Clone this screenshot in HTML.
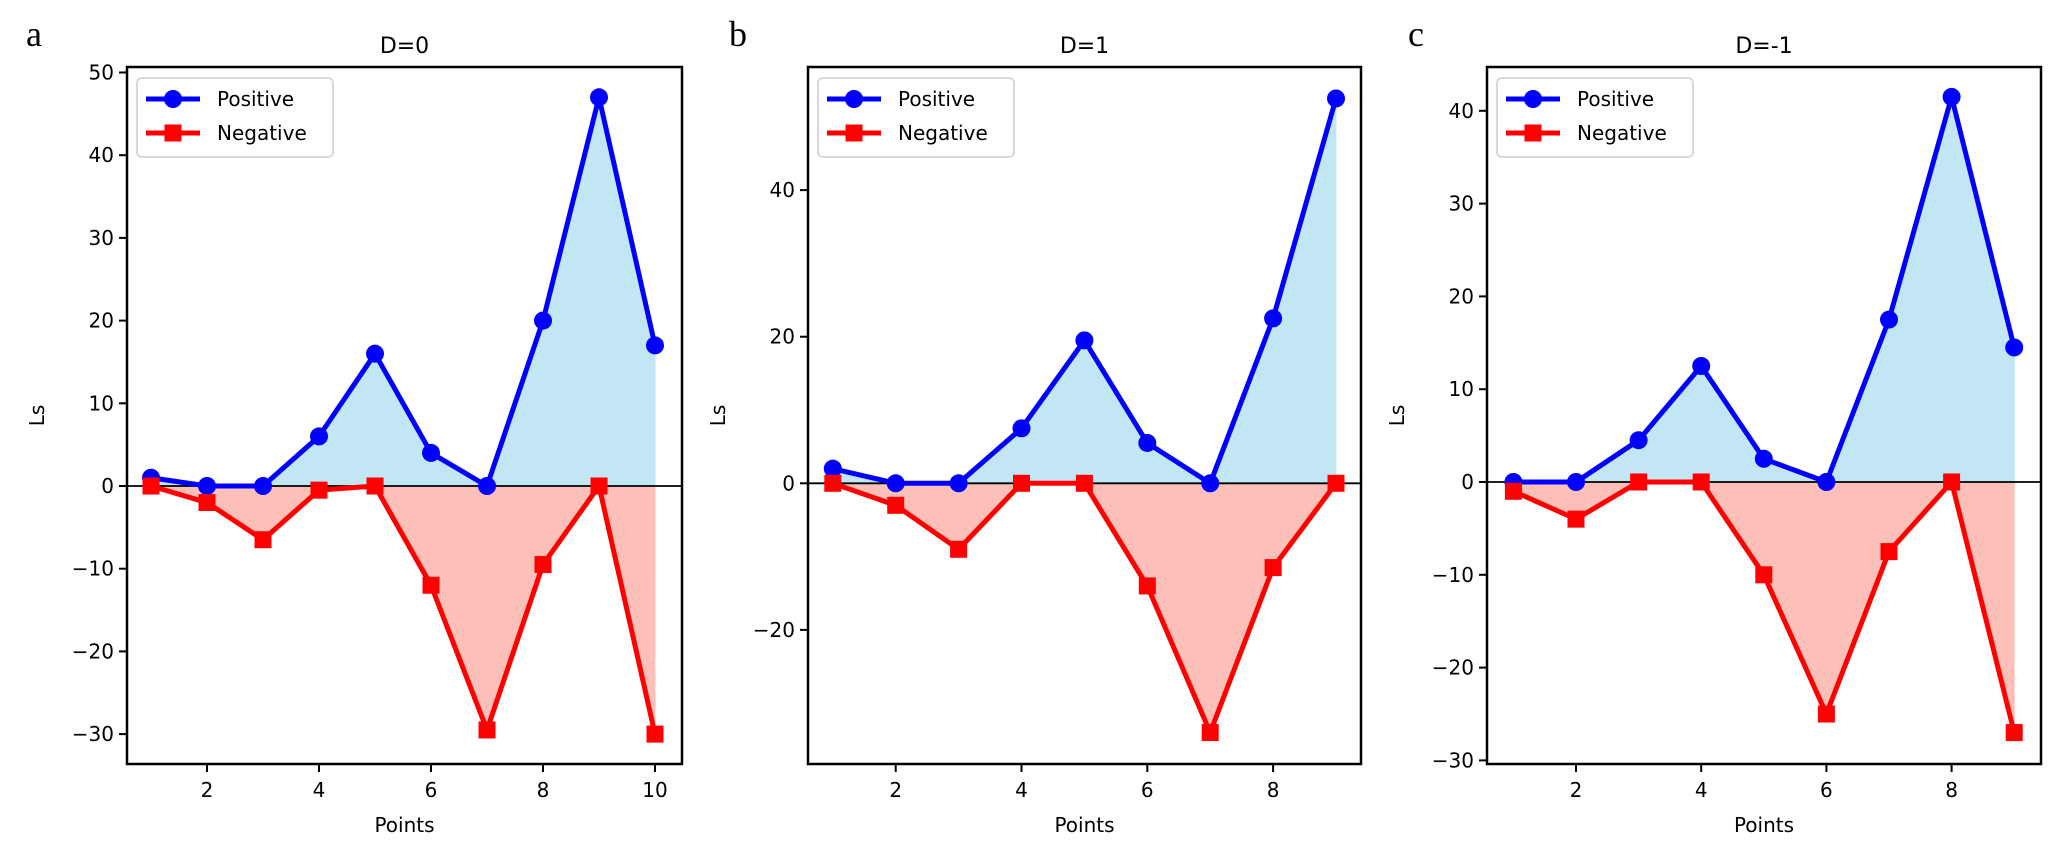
<!DOCTYPE html>
<html><head><meta charset="utf-8">
<style>
body{margin:0;background:#fff;}
svg{display:block;font-family:"DejaVu Sans","Liberation Sans",sans-serif;}
</style></head>
<body>
<svg id="fig" width="2068" height="866" viewBox="0 0 2068 866" xmlns="http://www.w3.org/2000/svg"></svg>
<script>
const xA = [1,2,3,4,5,6,7,8,9,10];
const posA = [1,0,0,6,16,4,0,20,47,17];
const negA = [0,-2,-6.5,-0.5,0,-12,-29.5,-9.5,0,-30];
const xB = [1,2,3,4,5,6,7,8,9];
const posB = [2,0,0,7.5,19.5,5.5,0,22.5,52.5];
const negB = [0,-3,-9,0,0,-14,-34,-11.5,0];
const xC = [1,2,3,4,5,6,7,8,9];
const posC = [0,0,4.5,12.5,2.5,0,17.5,41.5,14.5];
const negC = [-1,-4,0,0,-10,-25,-7.5,0,-27];
const yticksA = [-30,-20,-10,0,10,20,30,40,50];
const yticksB = [-20,0,20,40];
const yticksC = [-30,-20,-10,0,10,20,30,40];
const xticksA = [2,4,6,8,10];
const xticksB = [2,4,6,8];
const xticksC = [2,4,6,8];
const titles = ["D=0","D=1","D=-1"];
const letters = ["a","b","c"];

const NS="http://www.w3.org/2000/svg";
const fig=document.getElementById('fig');
function mk(tag,attrs,parent){const e=document.createElementNS(NS,tag);for(const k in attrs)e.setAttribute(k,attrs[k]);(parent||fig).appendChild(e);return e;}

const panels=[
 {x:xA,pos:posA,neg:negA,yt:yticksA,xt:xticksA,L:127,R:682,x0:1,x1:2,px0:151,px1:207,y0:0,py0:486,py10:82.7,lx:26},
 {x:xB,pos:posB,neg:negB,yt:yticksB,xt:xticksB,L:808,R:1361,x0:1,x1:2,px0:832.8,px1:895.7,y0:0,py0:483.3,py10:73.3,lx:729},
 {x:xC,pos:posC,neg:negC,yt:yticksC,xt:xticksC,L:1487,R:2041,x0:1,x1:2,px0:1513.4,px1:1576,y0:0,py0:482,py10:92.8,lx:1408}
];
const T=67,B=764;
panels.forEach((p,i)=>{
 const g=mk('g',{});
 
 
 const sx=v=>p.px0+(v-p.x0)*(p.px1-p.px0);
 const sy=v=>p.py0-v*p.py10/10;
 // fills
 function area(xs,ys,fill,name){
  let d='M'+sx(xs[0])+','+sy(0);
  xs.forEach((xv,j)=>{d+=' L'+sx(xv)+','+sy(ys[j]);});
  d+=' L'+sx(xs[xs.length-1])+','+sy(0)+' Z';
  const e=mk('path',{d:d,fill:fill,stroke:fill,'stroke-width':1},g);
  
  
 }
 area(p.x,p.pos,'#c3e6f5','positive-area');
 area(p.x,p.neg,'#fcc0b8','negative-area');
 const z=mk('line',{x1:p.L,x2:p.R,y1:sy(0),y2:sy(0),stroke:'#000','stroke-width':1.8},g);
 
 
 function series(xs,ys,col,name,sq){
  const pl=mk('polyline',{points:xs.map((xv,j)=>sx(xv)+','+sy(ys[j])).join(' '),fill:'none',stroke:col,'stroke-width':5,'stroke-linejoin':'round'},g);
  
  
  xs.forEach((xv,j)=>{
   let m;
   if(sq) m=mk('rect',{x:sx(xv)-8.5,y:sy(ys[j])-8.5,width:17,height:17,fill:col},g);
   else m=mk('circle',{cx:sx(xv),cy:sy(ys[j]),r:9,fill:col},g);
   
   
  });
 }
 series(p.x,p.pos,'#0000ff','positive',false);
 series(p.x,p.neg,'#ff0000','negative',true);
 const fr=mk('rect',{x:p.L,y:T,width:p.R-p.L,height:B-T,fill:'none',stroke:'#000','stroke-width':2.5},g);
 
 
 p.yt.forEach(v=>{
  const y=sy(v);
  mk('line',{x1:p.L-8,x2:p.L,y1:y,y2:y,stroke:'#000','stroke-width':2},g);
  const t=mk('text',{x:p.L-13,y:y+7,'text-anchor':'end','font-size':20},g);
  t.textContent=(v<0?'\u2212'+(-v):v);
  
  
 });
 p.xt.forEach(v=>{
  const x=sx(v);
  mk('line',{x1:x,x2:x,y1:B,y2:B+8,stroke:'#000','stroke-width':2},g);
  const t=mk('text',{x:x,y:B+33,'text-anchor':'middle','font-size':20},g);
  t.textContent=v;
  
  
 });
 const xl=mk('text',{x:(p.L+p.R)/2,y:832,'text-anchor':'middle','font-size':20},g);
 xl.textContent='Points';
 
 
 const ylx=p.L-(i==1?100:90)+ (i==0?0:0);
 const yl=mk('text',{x:0,y:0,'text-anchor':'middle','font-size':20,transform:'translate('+(p.L-83)+','+((T+B)/2)+') rotate(-90)'},g);
 yl.textContent='Ls';
 
 
 const ti=mk('text',{x:(p.L+p.R)/2,y:53,'text-anchor':'middle','font-size':22},g);
 ti.textContent=titles[i];
 
 
 const le=mk('text',{x:p.lx,y:46,'font-size':36,'font-family':'"Liberation Serif",serif'},g);
 le.textContent=letters[i];
 
 
 // legend
 const lg=mk('g',{},g);
 
 
 const lx=p.L+10;
 mk('rect',{x:lx,y:78,width:196,height:79,rx:5,fill:'#fff','fill-opacity':0.85,stroke:'#d9d9d9','stroke-width':2},lg);
 [['Positive','#0000ff',false,99],['Negative','#ff0000',true,133]].forEach(r=>{
  const e=mk('g',{},lg);
  
  
  mk('line',{x1:lx+9,x2:lx+63,y1:r[3],y2:r[3],stroke:r[1],'stroke-width':5},e);
  if(r[2]) mk('rect',{x:lx+36-8.5,y:r[3]-8.5,width:17,height:17,fill:r[1]},e);
  else mk('circle',{cx:lx+36,cy:r[3],r:9,fill:r[1]},e);
  const t=mk('text',{x:lx+80,y:r[3]+7,'font-size':20},e);
  t.textContent=r[0];
 });
});
</script>
</body></html>
